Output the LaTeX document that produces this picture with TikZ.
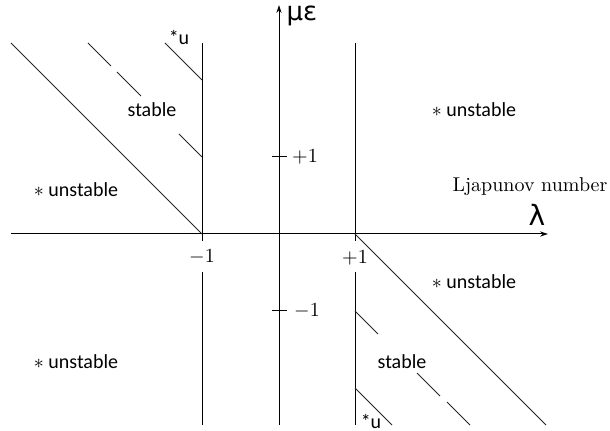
\documentclass[tikz,border=0pt]{standalone}
\usepackage{fontspec}
\newfontfamily\carl{Carlito}
\newfontfamily\dejav{DejaVu Sans}
\usetikzlibrary{arrows.meta}
\begin{document}
\begin{tikzpicture}[x=0.5pt,y=-0.5pt,
  axis/.style={line width=0.5pt,-{Stealth[length=4pt,width=2.6pt]}},
  bound/.style={line width=0.5pt},
  diag/.style={line width=0.42pt,black!85},
  lbl/.style={inner sep=0pt,font=\carl\fontsize{10}{12}\selectfont},
  num/.style={inner sep=0pt}]
\useasboundingbox (0,0) rectangle (610,431);
% coordinates
\coordinate (xa) at (11,234); \coordinate (xb) at (548,234);
\coordinate (ya) at (279,425); \coordinate (yb) at (279,5);
% axes
\draw[axis] (xa) -- (xb);
\draw[axis] (ya) -- (yb);
% ticks
\coordinate (t1a) at (272,157); \coordinate (t1b) at (287,157);
\coordinate (t2a) at (272,311); \coordinate (t2b) at (287,311);
\draw[bound] (t1a) -- (t1b);
\draw[bound] (t2a) -- (t2b);
% vertical boundaries
\coordinate (l1) at (202,43); \coordinate (l2) at (202,241);
\coordinate (l3) at (202,272); \coordinate (l4) at (202,425);
\coordinate (r1) at (355,43); \coordinate (r2) at (355,241);
\coordinate (r3) at (355,272); \coordinate (r4) at (355,425);
\draw[bound] (l1) -- (l2); \draw[bound] (l3) -- (l4);
\draw[bound] (r1) -- (r2); \draw[bound] (r3) -- (r4);
% diagonals
\coordinate (d1a) at (11,43); \coordinate (d1b) at (202,234);
\coordinate (d2a) at (355,234); \coordinate (d2b) at (546,425);
\draw[diag] (d1a) -- (d1b);
\draw[diag] (d2a) -- (d2b);
% dashed (stable boundary) left
\coordinate (s1a) at (88,43); \coordinate (s1b) at (111,66);
\coordinate (s2a) at (117,72); \coordinate (s2b) at (141,96);
\coordinate (s3a) at (179,134); \coordinate (s3b) at (202,157);
\draw[diag] (s1a) -- (s1b); \draw[diag] (s2a) -- (s2b); \draw[diag] (s3a) -- (s3b);
% *u left
\coordinate (u1a) at (165,43); \coordinate (u1b) at (202,80);
\draw[diag] (u1a) -- (u1b);
% dashed right
\coordinate (q1a) at (355,311); \coordinate (q1b) at (378,334);
\coordinate (q2a) at (417,373); \coordinate (q2b) at (440,396);
\coordinate (q3a) at (447,402); \coordinate (q3b) at (470,425);
\draw[diag] (q1a) -- (q1b); \draw[diag] (q2a) -- (q2b); \draw[diag] (q3a) -- (q3b);
% *u right
\coordinate (u2a) at (355,388); \coordinate (u2b) at (392,425);
\draw[diag] (u2a) -- (u2b);
% labels
\node[lbl] (un1) at (76,190) {$\ast$ unstable};
\node[lbl] (un2) at (474,110) {$\ast$ unstable};
\node[lbl] (un3) at (474,282) {$\ast$ unstable};
\node[lbl] (un4) at (76,362) {$\ast$ unstable};
\node[lbl] (st1) at (152,110) {stable};
\node[lbl] (st2) at (402,362) {stable};
\node[lbl] (su1) at (179,37) {*u};
\node[lbl] (su2) at (371,421) {*u};
\node[num] (m1) at (202,257) {$-1$};
\node[num] (p1) at (355,258) {$+1$};
\node[num] (p2) at (305,157) {$+1$};
\node[num] (m2) at (307,311) {$-1$};
\node[inner sep=0pt,font=\dejav\fontsize{13}{15}\selectfont] (mu) at (302,16) {με};
\node[inner sep=0pt,font=\dejav\fontsize{14}{16}\selectfont] (lam) at (537,215) {λ};
\node[inner sep=0pt] (lj) at (530,187) {Ljapunov number};
\end{tikzpicture}
\end{document}
